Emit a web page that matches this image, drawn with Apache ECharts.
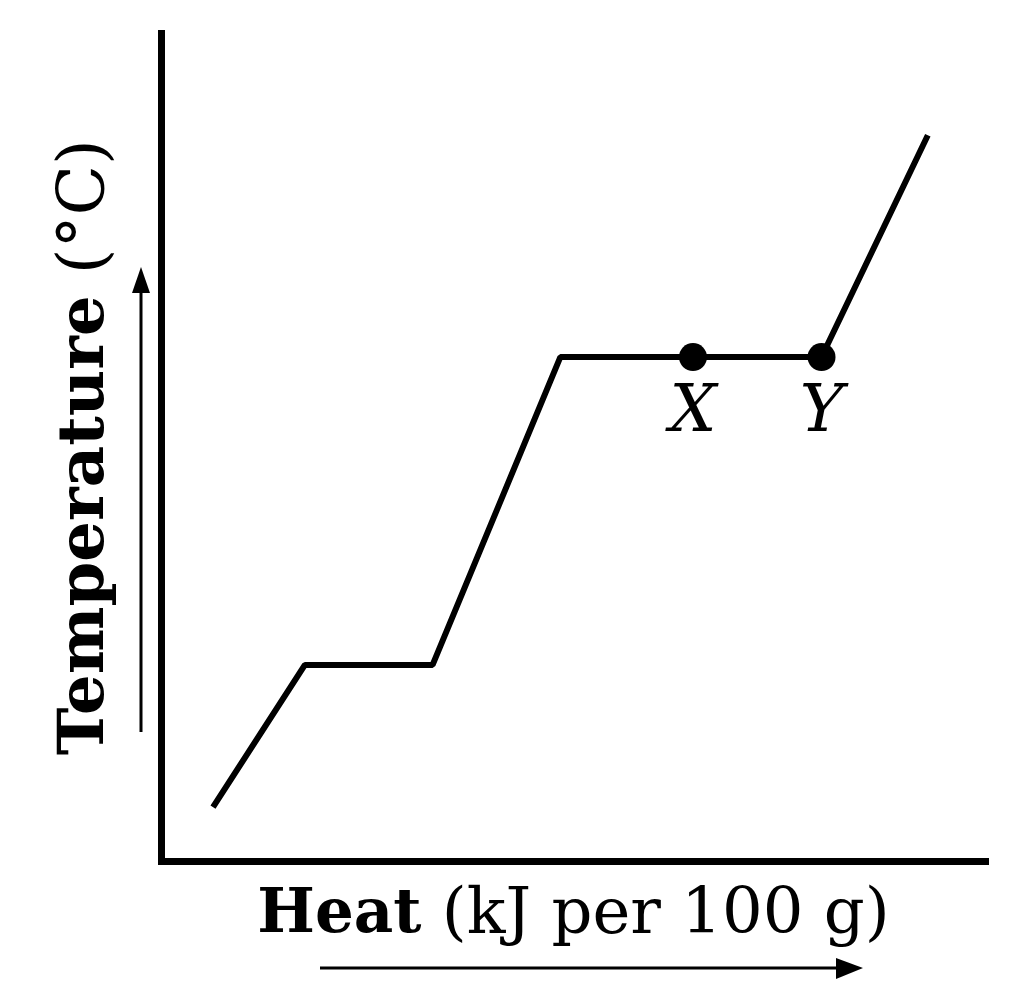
<!DOCTYPE html>
<html>
<head>
<meta charset="utf-8">
<script src="https://cdn.jsdelivr.net/npm/echarts@6/dist/echarts.min.js"></script>
<style>
html, body { margin: 0; padding: 0; background: #fff; }
#chart { width: 1015px; height: 985px; }
</style>
</head>
<body>
<div id="chart"></div>
<script>
// heating curve, arbitrary units (no ticks on the original)
var heat = [6.25, 17.4, 32.9, 48.4, 80.1, 93.0];
var temp = [6.5, 23.7, 23.7, 60.9, 60.9, 87.7];
// marked points on the plateau
var pointNames = ['X', 'Y'];
var pointHeat = [64.5, 80.1];
var pointTemp = [60.9, 60.9];

var serif = '"DejaVu Serif", "Liberation Serif", serif';

var chart = echarts.init(document.getElementById('chart'));

var curve = heat.map(function (h, i) { return [h, temp[i]]; });
var points = pointNames.map(function (n, i) {
	return { name: n, value: [pointHeat[i], pointTemp[i]] };
});

chart.setOption({
	animation: false,
	grid: { left: 161.5, right: 29.5, top: 33.5, bottom: 124 },
	xAxis: {
		type: 'value', min: 0, max: 100,
		axisLine: { lineStyle: { color: '#000', width: 7, cap: 'square' } },
		axisTick: { show: false }, axisLabel: { show: false }, splitLine: { show: false },
		name: '{b|Heat}{r| (kJ per 100 g)}',
		nameLocation: 'middle',
		nameGap: 20,
		nameTextStyle: {
			rich: {
				b: { fontFamily: serif, fontWeight: 'bold', fontSize: 61, color: '#000', lineHeight: 70 },
				r: { fontFamily: serif, fontSize: 64, color: '#000', lineHeight: 70 }
			}
		}
	},
	yAxis: {
		type: 'value', min: 0, max: 100,
		axisLine: { lineStyle: { color: '#000', width: 7, cap: 'square' } },
		axisTick: { show: false }, axisLabel: { show: false }, splitLine: { show: false },
		name: '{b|Temperature}{r| (°C)}',
		nameLocation: 'middle',
		nameGap: 40,
		nameRotate: 90,
		nameTextStyle: {
			rich: {
				b: { fontFamily: serif, fontWeight: 'bold', fontSize: 64, color: '#000', lineHeight: 70 },
				r: { fontFamily: serif, fontSize: 66, color: '#000', lineHeight: 70 }
			}
		}
	},
	series: [
		{
			type: 'line',
			data: curve,
			symbol: 'none',
			lineStyle: { color: '#000', width: 6 }
		},
		{
			type: 'scatter',
			data: points,
			symbolSize: 28,
			itemStyle: { color: '#000', opacity: 1 },
			label: {
				show: true,
				position: 'bottom',
				distance: 10,
				formatter: '{b}',
				fontFamily: serif,
				fontStyle: 'italic',
				fontSize: 66,
				color: '#000'
			}
		}
	],
	graphic: [
		// arrow along the temperature axis
		{ type: 'line', shape: { x1: 141, y1: 732, x2: 141, y2: 290 }, style: { stroke: '#000', lineWidth: 3 } },
		{ type: 'polygon', shape: { points: [[141, 267], [132, 293], [150, 293]] }, style: { fill: '#000' } },
		// arrow along the heat axis
		{ type: 'line', shape: { x1: 320, y1: 968, x2: 840, y2: 968 }, style: { stroke: '#000', lineWidth: 3 } },
		{ type: 'polygon', shape: { points: [[863, 968], [836, 958], [836, 979]] }, style: { fill: '#000' } }
	]
});
</script>
</body>
</html>
